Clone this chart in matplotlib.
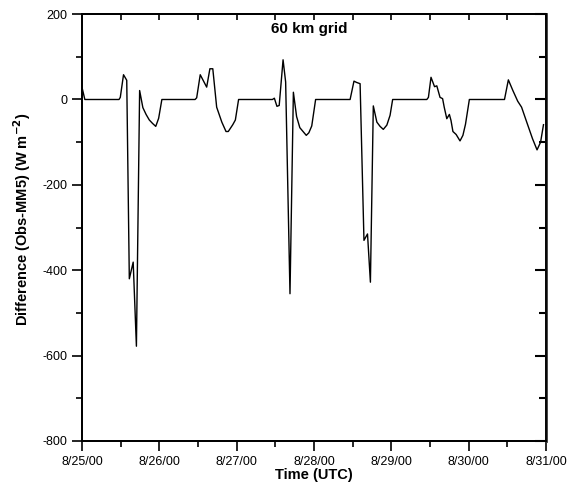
import numpy as np
import matplotlib
matplotlib.use("Agg")
import matplotlib.pyplot as plt
from matplotlib.ticker import MultipleLocator

plt.rcParams['font.family'] = ['Liberation Sans', 'DejaVu Sans']
plt.rcParams['axes.unicode_minus'] = False

# hours since 8/25/00 00 UTC, and difference Obs - MM5 (W m-2)
hours = [0, 0.9, 11.5, 11.9, 12.9, 13.9, 14.7, 15.9, 16.9, 17.9, 18.9, 19.9, 20.9, 21.9, 22.9, 23.8, 24.8,
         35.1, 35.6, 36.7, 38.7, 39.7, 40.6, 41.8, 43.4, 44.7, 45.4, 46.8, 47.6, 48.6,
         59.1, 59.7, 60.5, 61.2, 62.4, 63.2, 64.55, 65.6, 66.6, 67.6, 68.6, 69.6, 70.4, 71.3, 72.5,
         83.2, 84.4, 85.2, 86.3, 87.5, 88.6, 89.5, 90.4, 91.5, 92.5, 93.5, 94.6, 95.6, 96.4,
         107.0, 107.5, 108.3, 109.4, 110.1, 111.1, 111.9, 112.4, 113.2, 114.0, 114.5, 115.1, 116.1,
         117.3, 118.2, 119.0, 120.2,
         131.1, 132.3, 133.7, 135.2, 136.4, 138.0, 139.8, 141.2, 142.3, 143.2]
diff = [29, 0, 0, 5, 58, 45, -420, -381, -578, 21, -19, -35, -48, -56, -63, -44, 0,
        0, 4, 58, 29, 72, 72, -18, -53, -75, -75, -59, -48, 0,
        0, 3, -16, -14, 93, 41, -455, 17, -40, -66, -75, -84, -78, -62, 0,
        0, 43, 40, 37, -330, -315, -428, -15, -53, -63, -70, -60, -37, 0,
        0, 5, 52, 30, 32, 5, 2, -18, -45, -35, -49, -75, -82,
        -97, -84, -58, 0,
        0, 46, 21, -4, -18, -53, -92, -118, -100, -59]

day_labels = ['8/25/00', '8/26/00', '8/27/00', '8/28/00', '8/29/00', '8/30/00', '8/31/00']

days = np.array(hours) / 24.0

fig = plt.figure(figsize=(5.73, 4.87), dpi=100)
ax = fig.add_axes([0.143, 0.0945, 0.81, 0.8765])
ax.plot(days, diff, color='black', linewidth=1.0)

ax.set_xlim(0, 6)
ax.set_ylim(-800, 200)
ax.set_xticks(range(7))
ax.set_xticklabels(day_labels, fontsize=9)
ax.xaxis.set_minor_locator(MultipleLocator(0.5))
ax.yaxis.set_major_locator(MultipleLocator(200))
ax.yaxis.set_minor_locator(MultipleLocator(100))
ax.tick_params(axis='both', which='major', direction='out', length=7, width=1.2, labelsize=9)
ax.tick_params(axis='both', which='minor', direction='out', length=4, width=1.2)

ax.set_xlabel('Time (UTC)', fontsize=10.5, fontweight='bold', labelpad=0)
ax.set_ylabel('Difference (Obs-MM5) (W m$^{\\mathbf{-2}}$)', fontsize=10.5, fontweight='bold')
ax.yaxis.set_label_coords(-0.105, 0.52)

# right and top ticks point inward
axr = ax.twinx()
axr.set_ylim(-800, 200)
axr.yaxis.set_major_locator(MultipleLocator(200))
axr.yaxis.set_minor_locator(MultipleLocator(100))
axr.tick_params(axis='y', which='major', direction='in', length=8, width=1.5, labelright=False)
axr.tick_params(axis='y', which='minor', direction='in', length=5, width=1.5)
axt = ax.twiny()
axt.set_xlim(0, 6)
axt.xaxis.set_major_locator(MultipleLocator(0.5))
axt.tick_params(axis='x', which='major', direction='in', length=4, width=1.2, labeltop=False)

for a in (ax, axr, axt):
    for s in a.spines.values():
        s.set_linewidth(1.2)
axr.spines['right'].set_linewidth(2.0)
axr.spines['right'].set_color('#333333')

ax.text(0.49, 0.964, '60 km grid', transform=ax.transAxes, ha='center', va='center',
        fontsize=11, fontweight='bold')

fig.savefig('out.png', dpi=100)
